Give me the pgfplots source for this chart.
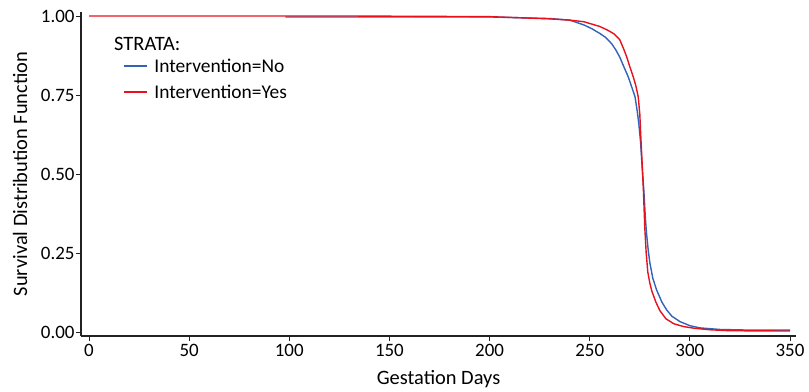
\documentclass[border=0pt]{standalone}
\usepackage{pgfplots}
\pgfplotsset{compat=1.18}
\usepackage{fontspec}
\setmainfont{Carlito}
\definecolor{cblue}{HTML}{3163B8}
\definecolor{cred}{HTML}{E5121E}
\definecolor{axgray}{HTML}{222222}
\begin{document}
\begin{tikzpicture}[x=1bp,y=1bp]
\begin{axis}[
  name=ax,
  scale only axis,
  width=715bp, height=324bp,
  axis lines=left,
  axis line style={axgray, line width=1.1bp, -},
  xmin=-4, xmax=353,
  ymin=-0.0127, ymax=1.0127,
  xtick={0,50,100,150,200,250,300,350},
  ytick={0,0.25,0.5,0.75,1},
  tick style={axgray, line width=0.9bp},
  tick align=outside,
  major tick length=5bp,
  /pgf/number format/assume math mode=true,
  yticklabel style={/pgf/number format/fixed, /pgf/number format/fixed zerofill, /pgf/number format/precision=2, font=\fontsize{19}{22}\selectfont, xshift=2bp},
  xticklabel style={font=\fontsize{19}{22}\selectfont},
  scaled y ticks=false,
  xlabel={Gestation Days},
  ylabel={Survival Distribution Function},
  xlabel style={font=\fontsize{20.5}{24}\selectfont, at={(rel axis cs:0.5,-0.1327)}, anchor=center},
  ylabel style={font=\fontsize{20.5}{24}\selectfont, at={(rel axis cs:-0.0853,0.5)}, anchor=center, rotate=0},
  legend style={draw=none, fill=none, at={(rel axis cs:0.0587,0.8565)}, anchor=north west, font=\fontsize{19.5}{23}\selectfont, row sep=7.5bp, inner sep=0pt, nodes={inner sep=0pt, text height=14bp, text depth=4.5bp}, /tikz/every odd column/.append style={column sep=7bp}},
  legend cell align=left,
  legend image code/.code={\draw[#1, line width=1.3bp] (0bp,2bp) -- (23bp,2bp);},
  clip=false,
]
\addplot[cblue, line width=1.4bp] coordinates {
(98,0.997) (150,0.997) (200,0.997) (230,0.992) (240,0.987) (247,0.972) (251,0.960) (255,0.945) (258,0.932) (261,0.912) (263,0.893) (265,0.870) (267,0.840) (269.2,0.808) (271,0.775) (272.6,0.745) (273.7,0.70) (274.5,0.66) (275.4,0.60) (276.2,0.52) (277.1,0.44) (277.8,0.36) (278.4,0.31) (279.2,0.26) (280,0.22) (281.5,0.17) (283.4,0.133) (286,0.095) (288.4,0.070) (291,0.050) (295,0.033) (300,0.020) (305,0.013) (315,0.008) (330,0.006) (350,0.006)
};
\addlegendentry{Intervention=No}
\addplot[cred, line width=1.4bp] coordinates {
(0,1.000) (130,1.000) (200,0.998) (230,0.991) (240,0.987) (247,0.982) (255,0.967) (259,0.955) (262,0.944) (265,0.925) (267,0.895) (268.5,0.870) (270,0.840) (271.7,0.808) (273,0.780) (274.2,0.745) (275,0.69) (275.5,0.62) (276.2,0.53) (276.8,0.45) (277.5,0.33) (278.2,0.25) (279,0.19) (280,0.155) (281,0.13) (283,0.095) (285,0.068) (288,0.042) (292,0.026) (297,0.017) (302,0.012) (310,0.007) (320,0.004) (350,0.003)
};
\addlegendentry{Intervention=Yes}
\node[anchor=base west, inner sep=0pt, font=\fontsize{20.5}{24}\selectfont] at (rel axis cs:0.0462,0.8827) {STRATA:};
\end{axis}
\pgfresetboundingbox
\path ([shift={(-81bp,-56bp)}]ax.south west) rectangle ([shift={(13bp,12bp)}]ax.north east);
\end{tikzpicture}
\end{document}
